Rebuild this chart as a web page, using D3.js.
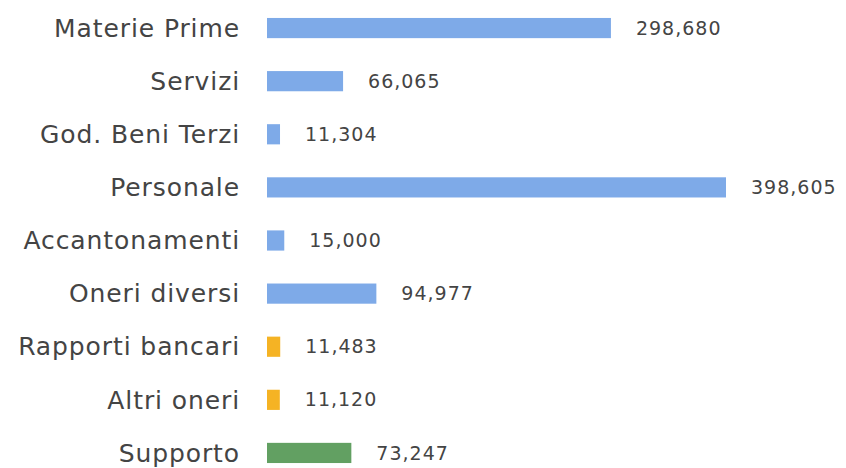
<!DOCTYPE html>
<html>

<head>
    <script src="https://cdnjs.cloudflare.com/ajax/libs/d3/7.8.5/d3.min.js"></script>
    <style>
        body {
            margin: 0;
            background: #fff;
        }

        .cat {
            fill: #444;
            font-family: 'DejaVu Sans', sans-serif;
            font-size: 25px;
            letter-spacing: 0.9px;
        }

        .val {
            fill: #444;
            font-family: 'DejaVu Sans', sans-serif;
            font-size: 19px;
            letter-spacing: 1px;
        }
    </style>
</head>

<body>
    <script>
        const categories = ['Materie Prime', 'Servizi', 'God. Beni Terzi', 'Personale', 'Accantonamenti',
            'Oneri diversi', 'Rapporti bancari', 'Altri oneri', 'Supporto']
        const values = [298680, 66065, 11304, 398605, 15000, 94977, 11483, 11120, 73247]
        const groups = ['costi', 'costi', 'costi', 'costi', 'costi', 'costi', 'banca', 'banca', 'supporto']

        const colors = { costi: '#7eaae8', banca: '#f5b324', supporto: '#62a062' }

        const w = 846
        const h = 468

        const data = categories.map((c, i) => ({ cat: c, value: values[i], group: groups[i] }))

        const svg = d3.select('body')
            .append('svg')
            .attr('width', w)
            .attr('height', h)

        const x = d3.scaleLinear()
            .domain([0, d3.max(values)])
            .range([267, 726])

        const y = d3.scaleBand()
            .domain(categories)
            .range([1.5, 479.5])
            .paddingInner(0.62)
            .paddingOuter(0.31)

        const fmt = d3.format(',')

        svg.selectAll('rect')
            .data(data)
            .enter()
            .append('rect')
            .attr('x', x(0))
            .attr('y', d => y(d.cat))
            .attr('width', d => x(d.value) - x(0))
            .attr('height', y.bandwidth())
            .attr('fill', d => colors[d.group])

        svg.selectAll('text.cat')
            .data(data)
            .enter()
            .append('text')
            .attr('class', 'cat')
            .attr('x', 240)
            .attr('y', d => y(d.cat) + y.bandwidth() / 2)
            .attr('dy', '0.35em')
            .attr('text-anchor', 'end')
            .text(d => d.cat)

        svg.selectAll('text.val')
            .data(data)
            .enter()
            .append('text')
            .attr('class', 'val')
            .attr('x', d => x(d.value) + 25)
            .attr('y', d => y(d.cat) + y.bandwidth() / 2)
            .attr('dy', '0.35em')
            .text(d => fmt(d.value))
    </script>
</body>

</html>
